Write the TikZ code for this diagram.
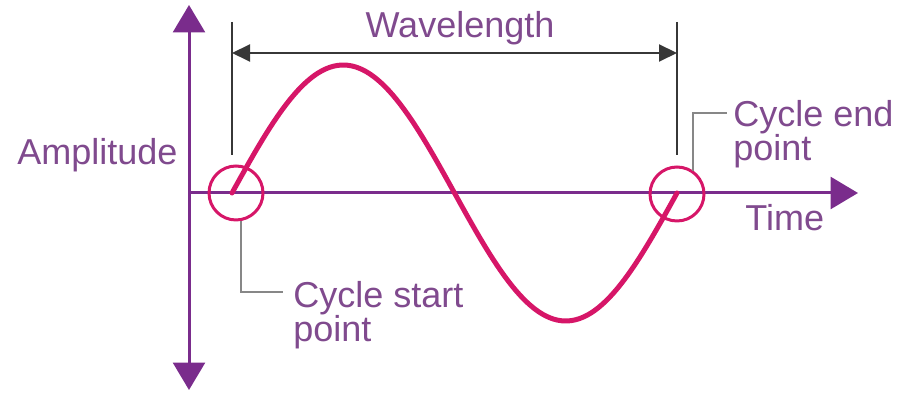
\documentclass[tikz,border=0pt]{standalone}
\usepackage{fontspec}
\setmainfont{Liberation Sans}
\usepackage{xcolor}
\definecolor{axispurple}{RGB}{122,44,140}
\definecolor{textpurple}{RGB}{128,74,142}
\definecolor{wavered}{RGB}{214,22,104}
\definecolor{dimgray}{RGB}{55,55,55}
\definecolor{leadgray}{RGB}{135,135,135}
\usetikzlibrary{arrows.meta,positioning}

\begin{document}
\begin{tikzpicture}[x=0.02cm, y=-0.02cm,
  axisline/.style={draw=axispurple, line width=0.6mm, >={Triangle[length=5.5mm,width=6.4mm]}},
  waveline/.style={draw=wavered, line width=1mm, line cap=round},
  marker/.style={circle, draw=wavered, line width=0.6mm, minimum size=1.08cm, inner sep=0pt},
  dimline/.style={draw=dimgray, line width=0.4mm, >={Triangle[length=3.6mm,width=3.4mm]}},
  tickline/.style={draw=dimgray, line width=0.3mm},
  leaderline/.style={draw=leadgray, line width=0.4mm},
  lbl/.style={text=textpurple, font=\fontsize{20.5}{19.5}\selectfont, inner sep=0pt, align=left}
]
\useasboundingbox (0,0) rectangle (901,394);

% Axes
\coordinate (ytop) at (189,5);
\coordinate (ybot) at (189,390);
\coordinate (origin) at (189,193);
\coordinate (xend) at (858,193);
\draw[axisline, <->] (ytop) -- (ybot);
\draw[axisline, ->] (origin) -- (xend);

% Wave
\draw[waveline] plot[domain=0:360, samples=120] ({232+1.23611*\x},{193-128*sin(\x)});

% Wavelength
\coordinate (tickltop) at (232,22);
\coordinate (ticklbot) at (232,155);
\coordinate (tickrtop) at (677,22);
\coordinate (tickrbot) at (677,155);
\draw[tickline] (tickltop) -- (ticklbot);
\draw[tickline] (tickrtop) -- (tickrbot);
\coordinate (wlstart) at (232,53);
\coordinate (wlend) at (677,53);
\draw[dimline, <->] (wlstart) -- (wlend);
\node[lbl, anchor=base] (wl) at (460,38) {Wavelength};

% Markers
\node[marker] (startc) at (236,193) {};
\node[marker] (endc) at (677,194) {};

% Labels
\node[lbl, anchor=base west] (amp) at (17,165) {Amplitude};
\node[lbl, anchor=base west] (time) at (745,231) {Time};

\coordinate (endknee) at (727,113);
\node[lbl, anchor=north west] (endlbl) at (733,100) {Cycle end\\point};
\draw[leaderline] (endc.55) |- (endknee);

\coordinate (startknee) at (283,292);
\node[lbl, anchor=north west] (startlbl) at (293,281) {Cycle start\\point};
\draw[leaderline] (startc.-80) |- (startknee);

\end{tikzpicture}
\end{document}
